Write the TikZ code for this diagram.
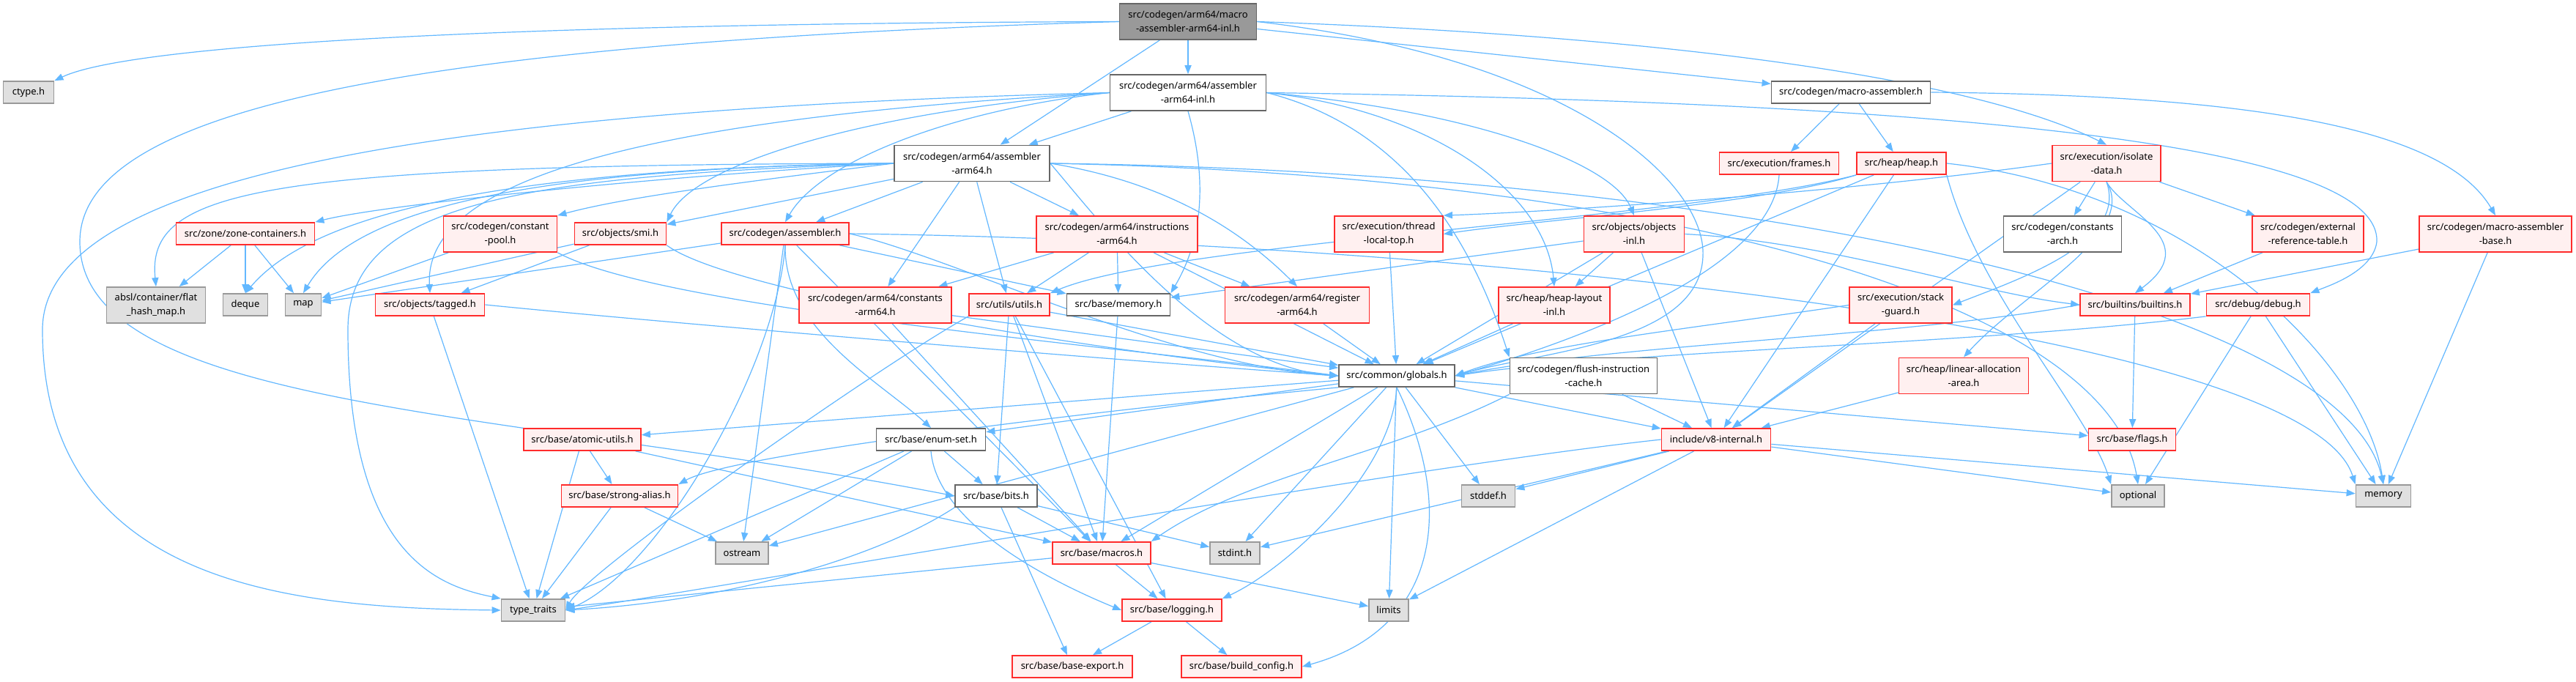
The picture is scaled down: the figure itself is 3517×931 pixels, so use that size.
\documentclass[tikz,border=0pt]{standalone}
\usepackage{fontspec}
\setmainfont{Noto Sans}
\usepackage{tikz}
\usetikzlibrary{arrows.meta,backgrounds}
\definecolor{edgeblue}{HTML}{63B8FF}
\definecolor{trunkred}{HTML}{FF2B2B}
\definecolor{trunkfill}{HTML}{FFF0F0}
\definecolor{sysfill}{HTML}{E0E0E0}
\definecolor{sysline}{HTML}{999999}
\definecolor{fileline}{HTML}{666666}
\definecolor{rootfill}{HTML}{999999}

\begin{document}
\begin{tikzpicture}[
  x=0.5pt, y=-0.5pt,
  hdr/.style={draw, align=center, inner sep=0pt, line width=0.9pt, minimum height=15pt, font=\fontsize{6.5}{9.5}\selectfont},
  two/.style={minimum height=24.5pt},
  redbox/.style={hdr, draw=trunkred, fill=trunkfill},
  sysbox/.style={hdr, draw=sysline, fill=sysfill},
  filebox/.style={hdr, draw=fileline, fill=white},
  rootbox/.style={hdr, draw=fileline, fill=rootfill},
  inc/.style={draw=edgeblue, line width=0.6pt, -{Triangle[length=6pt,width=4.6pt]}}
]
  \useasboundingbox (0,0) rectangle (3517,931);

  \node[rootbox, two, minimum width=93.5pt] (root) at (1622,29.5) {src/codegen/arm64/macro\\-assembler-arm64-inl.h};
  \node[sysbox, minimum width=34.5pt] (ctype) at (39,126) {ctype.h};
  \node[filebox, two, minimum width=106.5pt] (asminl) at (1622,126.5) {src/codegen/arm64/assembler\\-arm64-inl.h};
  \node[filebox, minimum width=108.5pt] (masm) at (2527,126) {src/codegen/macro-assembler.h};
  \node[redbox, two, minimum width=74pt] (isolate) at (2876,223) {src/execution/isolate\\-data.h};
  \node[filebox, two, minimum width=106pt] (asmarm) at (1327,223) {src/codegen/arm64/assembler\\-arm64.h};
  \node[redbox, minimum width=81.5pt] (frames) at (2429,223) {src/execution/frames.h};
  \node[redbox, minimum width=61pt] (heap) at (2596,223) {src/heap/heap.h};
  \node[redbox, minimum width=94.5pt] (zone) at (335,319) {src/zone/zone-containers.h};
  \node[redbox, two, minimum width=77.5pt] (constpool) at (683,319.5) {src/codegen/constant\\-pool.h};
  \node[redbox, minimum width=62.5pt] (smi) at (847,319) {src/objects/smi.h};
  \node[redbox, minimum width=87pt] (assembler) at (1072,319) {src/codegen/assembler.h};
  \node[redbox, two, minimum width=110pt] (instr) at (1525,319.5) {src/codegen/arm64/instructions\\-arm64.h};
  \node[redbox, two, minimum width=74pt] (threadtop) at (1896,319.5) {src/execution/thread\\-local-top.h};
  \node[redbox, two, minimum width=68.5pt] (objinl) at (2231,319.5) {src/objects/objects\\-inl.h};
  \node[filebox, two, minimum width=80.5pt] (constarch) at (2816,319.5) {src/codegen/constants\\-arch.h};
  \node[redbox, two, minimum width=76pt] (extref) at (3151,319.5) {src/codegen/external\\-reference-table.h};
  \node[redbox, two, minimum width=104pt] (masmbase) at (3407,319.5) {src/codegen/macro-assembler\\-base.h};
  \node[sysbox, two, minimum width=67.5pt] (absl) at (213,416.5) {absl/container/flat\\\_hash\_map.h};
  \node[sysbox, minimum width=30.5pt] (deque) at (335,416) {deque};
  \node[sysbox, minimum width=24.5pt] (map) at (414,416) {map};
  \node[redbox, minimum width=74.5pt] (tagged) at (587,416) {src/objects/tagged.h};
  \node[redbox, two, minimum width=104pt] (constarm) at (1195,416.5) {src/codegen/arm64/constants\\-arm64.h};
  \node[redbox, minimum width=55pt] (utils) at (1378,416) {src/utils/utils.h};
  \node[filebox, minimum width=70.5pt] (memh) at (1527,416) {src/base/memory.h};
  \node[redbox, two, minimum width=98.5pt] (register) at (1771,416.5) {src/codegen/arm64/register\\-arm64.h};
  \node[redbox, two, minimum width=76pt] (heaplayout) at (2122,416.5) {src/heap/heap-layout\\-inl.h};
  \node[redbox, two, minimum width=70pt] (stackguard) at (2595,416.5) {src/execution/stack\\-guard.h};
  \node[redbox, minimum width=75pt] (builtins) at (2915,416) {src/builtins/builtins.h};
  \node[redbox, minimum width=70.5pt] (debug) at (3083,416) {src/debug/debug.h};
  \node[filebox, minimum width=79pt] (globals) at (1907,513) {src/common/globals.h};
  \node[filebox, two, minimum width=100.5pt] (flush) at (2162,513) {src/codegen/flush-instruction\\-cache.h};
  \node[redbox, two, minimum width=88.5pt] (linalloc) at (2681,513) {src/heap/linear-allocation\\-area.h};
  \node[redbox, minimum width=80pt] (atomic) at (795,600) {src/base/atomic-utils.h};
  \node[filebox, minimum width=74.5pt] (enumset) at (1271,600) {src/base/enum-set.h};
  \node[redbox, minimum width=74.5pt] (v8int) at (2343,600) {include/v8-internal.h};
  \node[redbox, minimum width=59.5pt] (flags) at (2911,600) {src/base/flags.h};
  \node[redbox, minimum width=79.5pt] (strongalias) at (846,677) {src/base/strong-alias.h};
  \node[filebox, minimum width=56pt] (bits) at (1360,677) {src/base/bits.h};
  \node[sysbox, minimum width=36.5pt] (stddef) at (2032,677) {stddef.h};
  \node[sysbox, minimum width=36pt] (optional) at (2919,677) {optional};
  \node[sysbox, minimum width=37.5pt] (memory) at (3254,677) {memory};
  \node[sysbox, minimum width=36pt] (ostream) at (1013,755) {ostream};
  \node[redbox, minimum width=67pt] (macros) at (1504,755) {src/base/macros.h};
  \node[sysbox, minimum width=34pt] (stdint) at (1686,755) {stdint.h};
  \node[sysbox, minimum width=43.5pt] (typetraits) at (728,833) {type\_traits};
  \node[redbox, minimum width=68pt] (logging) at (1600,833) {src/base/logging.h};
  \node[sysbox, minimum width=27pt] (limits) at (1896,833) {limits};
  \node[redbox, minimum width=82pt] (baseexport) at (1464,910) {src/base/base-export.h};
  \node[redbox, minimum width=82pt] (buildcfg) at (1695,910) {src/base/build\_config.h};

  \begin{scope}[on background layer]
  \fill[white] (0,0) rectangle (3517,931);
  \draw[inc] (root.west) .. controls (700,32) and (180,60) .. (ctype.north east);
  \draw[inc] (root.west) .. controls (500,60) and (109,160) .. (109,330) .. controls (109,560) and (700,560) .. (bits.west);
  \draw[inc] (root) -- (asminl);
  \draw[inc] (root) -- (asmarm);
  \draw[inc] (root) -- (masm);
  \draw[inc] (root.east) .. controls (2300,50) and (2700,110) .. (isolate.north);
  \draw[inc] (root.east) .. controls (2150,80) and (2330,250) .. (2325,350) .. controls (2320,470) and (2100,480) .. (globals.east);

  \draw[inc] (asminl.west) .. controls (600,150) and (58,240) .. (58,450) .. controls (58,800) and (400,830) .. (typetraits.west);
  \draw[inc] (asminl.west) .. controls (900,160) and (578,240) .. (tagged.north);
  \draw[inc] (asminl.west) .. controls (1200,150) and (950,220) .. (smi.north east);
  \draw[inc] (asminl.west) .. controls (1300,150) and (1120,220) .. (assembler.north);
  \draw[inc] (asminl) -- (asmarm);
  \draw[inc] (asminl.south) .. controls (1650,250) and (1640,330) .. (memh.north east);
  \draw[inc] (asminl.east) .. controls (2000,150) and (2200,220) .. (objinl.north);
  \draw[inc] (asminl.east) .. controls (1950,150) and (2110,260) .. (heaplayout.north);
  \draw[inc] (asminl.east) .. controls (1900,170) and (2000,300) .. (flush.north west);
  \draw[inc] (asminl.east) .. controls (2700,140) and (3250,200) .. (3245,330) .. controls (3240,370) and (3180,390) .. (debug.north east);

  \draw[inc] (asmarm.west) .. controls (350,225) and (200,260) .. (absl.north);
  \draw[inc] (asmarm.west) .. controls (900,240) and (520,280) .. (zone.north east);
  \draw[inc] (asmarm.west) .. controls (650,230) and (420,300) .. (deque.north);
  \draw[inc] (asmarm.west) .. controls (700,230) and (480,290) .. (map.north);
  \draw[inc] (asmarm.west) .. controls (700,240) and (475,280) .. (475,450) .. controls (475,760) and (600,800) .. (typetraits.north west);
  \draw[inc] (asmarm.west) .. controls (1000,250) and (850,270) .. (constpool.north east);
  \draw[inc] (asmarm) -- (smi);
  \draw[inc] (asmarm) -- (assembler);
  \draw[inc] (asmarm) -- (constarm);
  \draw[inc] (asmarm) -- (utils);
  \draw[inc] (asmarm) -- (instr);
  \draw[inc] (asmarm.east) .. controls (1600,250) and (1700,320) .. (register.north);
  \draw[inc] (asmarm.east) .. controls (1500,300) and (1650,500) .. (globals.west);
  \draw[inc] (asmarm.east) .. controls (2400,235) and (3200,420) .. (memory.north);
  \draw[inc] (asmarm.east) .. controls (2300,240) and (2880,420) .. (optional.north);

  \draw[inc] (masm) -- (frames);
  \draw[inc] (masm) -- (heap);
  \draw[inc] (masm.east) .. controls (3100,130) and (3340,180) .. (masmbase.north);

  \draw[inc] (isolate) -- (constarch);
  \draw[inc] (isolate) -- (extref);
  \draw[inc] (isolate.south) .. controls (2900,290) and (3010,330) .. (builtins.north);
  \draw[inc] (isolate.south) .. controls (2905,330) and (2760,380) .. (stackguard.east);
  \draw[inc] (isolate.south) .. controls (2920,320) and (2760,400) .. (linalloc.north);
  \draw[inc] (isolate.west) .. controls (2500,265) and (2100,290) .. (threadtop.north east);
  \draw[inc] (isolate) -- (v8int);

  \draw[inc] (zone) -- (absl);
  \draw[inc] (zone) -- (deque);
  \draw[inc] (zone) -- (map);
  \draw[inc] (constpool) -- (map);
  \draw[inc] (constpool.south east) .. controls (900,420) and (1500,470) .. (globals.west);
  \draw[inc] (smi) -- (tagged);
  \draw[inc] (smi) -- (map);
  \draw[inc] (smi.south east) .. controls (1000,400) and (1500,480) .. (globals.west);
  \draw[inc] (tagged) -- (typetraits);
  \draw[inc] (tagged.east) .. controls (900,440) and (1500,490) .. (globals.west);

  \draw[inc] (assembler) -- (map);
  \draw[inc] (assembler) -- (ostream);
  \draw[inc] (assembler.south) .. controls (1060,500) and (900,780) .. (typetraits.east);
  \draw[inc] (assembler) -- (memh);
  \draw[inc] (assembler.south) .. controls (1070,450) and (1200,520) .. (enumset.north);
  \draw[inc] (assembler.east) .. controls (1300,350) and (1600,500) .. (globals.west);
  \draw[inc] (assembler) -- (macros);
  \draw[inc] (assembler.east) .. controls (2000,330) and (3150,450) .. (memory.north west);

  \draw[inc] (instr) -- (constarm);
  \draw[inc] (instr) -- (utils);
  \draw[inc] (instr) -- (memh);
  \draw[inc] (instr) -- (register);
  \draw[inc] (instr) -- (globals);
  \draw[inc] (threadtop) -- (globals);
  \draw[inc] (objinl) -- (heaplayout);
  \draw[inc] (objinl) -- (globals);
  \draw[inc] (objinl) -- (v8int);
  \draw[inc] (objinl) -- (memh);
  \draw[inc] (objinl.east) .. controls (2500,330) and (2700,400) .. (builtins.west);

  \draw[inc] (heap.south west) .. controls (2400,280) and (2100,300) .. (threadtop.east);
  \draw[inc] (heap.south west) .. controls (2300,300) and (1600,330) .. (utils.north east);
  \draw[inc] (heap) -- (globals);
  \draw[inc] (heap) -- (v8int);
  \draw[inc] (heap.south east) .. controls (2700,400) and (2850,560) .. (optional.north west);
  \draw[inc] (heap.east) .. controls (3000,260) and (3230,500) .. (memory.north);
  \draw[inc] (frames.south) .. controls (2420,380) and (2100,480) .. (globals.east);

  \draw[inc] (utils.south west) .. controls (1200,500) and (800,780) .. (typetraits.east);
  \draw[inc] (utils) -- (globals);
  \draw[inc] (utils) -- (bits);
  \draw[inc] (utils) -- (macros);
  \draw[inc] (utils) -- (logging);
  \draw[inc] (memh) -- (macros);
  \draw[inc] (constarm) -- (macros);
  \draw[inc] (constarm) -- (globals);
  \draw[inc] (register) -- (globals);
  \draw[inc] (heaplayout) -- (globals);
  \draw[inc] (flush) -- (v8int);
  \draw[inc] (flush.south west) .. controls (1900,620) and (1700,650) .. (macros.north east);
  \draw[inc] (stackguard.west) .. controls (2300,450) and (2100,470) .. (globals.east);
  \draw[inc] (stackguard) -- (v8int);
  \draw[inc] (builtins) -- (flags);
  \draw[inc] (builtins.west) .. controls (2600,460) and (2200,470) .. (globals.east);
  \draw[inc] (debug.south west) .. controls (2700,470) and (2200,480) .. (globals.east);
  \draw[inc] (debug) -- (optional);
  \draw[inc] (debug) -- (memory);
  \draw[inc] (extref) -- (builtins);
  \draw[inc] (masmbase) -- (builtins);
  \draw[inc] (masmbase) -- (memory);
  \draw[inc] (linalloc) -- (v8int);

  \draw[inc] (globals) -- (atomic);
  \draw[inc] (globals) -- (enumset);
  \draw[inc] (globals.south west) .. controls (1500,560) and (1000,620) .. (strongalias.north east);
  \draw[inc] (globals) -- (ostream);
  \draw[inc] (globals) -- (macros);
  \draw[inc] (globals.south) .. controls (1900,650) and (1750,780) .. (logging.north east);
  \draw[inc] (globals) -- (stdint);
  \draw[inc] (globals) -- (stddef);
  \draw[inc] (globals) -- (limits);
  \draw[inc] (globals.south) .. controls (1990,700) and (1960,860) .. (buildcfg.east);
  \draw[inc] (globals) -- (v8int);
  \draw[inc] (globals) -- (flags);

  \draw[inc] (v8int) -- (stddef);
  \draw[inc] (v8int) -- (stdint);
  \draw[inc] (v8int) -- (limits);
  \draw[inc] (v8int.west) .. controls (1900,640) and (1000,800) .. (typetraits.east);
  \draw[inc] (v8int) -- (optional);
  \draw[inc] (v8int) -- (memory);

  \draw[inc] (atomic) -- (strongalias);
  \draw[inc] (atomic) -- (typetraits);
  \draw[inc] (atomic) -- (macros);
  \draw[inc] (enumset) -- (ostream);
  \draw[inc] (enumset) -- (bits);
  \draw[inc] (enumset) -- (typetraits);
  \draw[inc] (enumset.south) .. controls (1280,720) and (1450,800) .. (logging.west);
  \draw[inc] (strongalias) -- (ostream);
  \draw[inc] (strongalias) -- (typetraits);
  \draw[inc] (bits) -- (macros);
  \draw[inc] (bits) -- (stdint);
  \draw[inc] (bits.south west) .. controls (1200,760) and (1000,820) .. (typetraits.east);
  \draw[inc] (bits) -- (baseexport);
  \draw[inc] (macros) -- (typetraits);
  \draw[inc] (macros) -- (logging);
  \draw[inc] (macros) -- (limits);
  \draw[inc] (logging) -- (baseexport);
  \draw[inc] (logging) -- (buildcfg);
  \end{scope}
\end{tikzpicture}
\end{document}
